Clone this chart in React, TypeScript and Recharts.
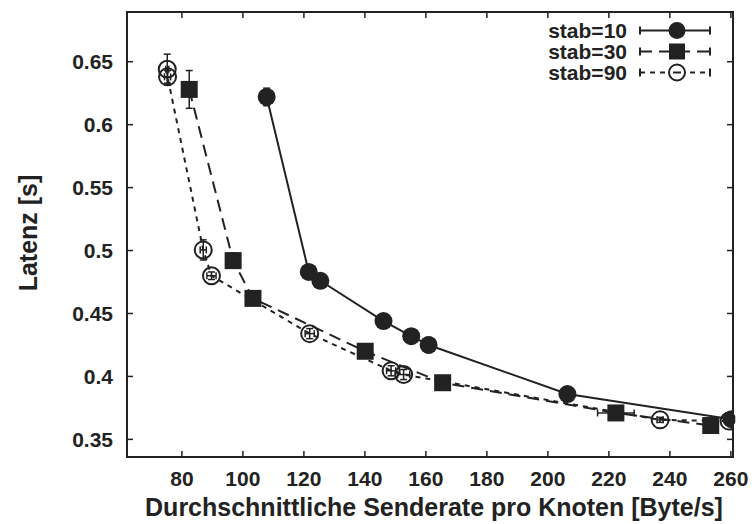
import React from 'react';
import { ScatterChart, Scatter, XAxis, YAxis, ErrorBar, ReferenceArea } from 'recharts';

const ink = '#222222';
const font = '"Liberation Sans", Arial, Helvetica, sans-serif';

// plot box (px)
const PLOT_TOP = 12;
const PLOT_BOTTOM = 457;
const PLOT_LEFT = 127;
const PLOT_RIGHT = 733;

const xDomain = [62, 260.7];
const yDomain = [0.336, 0.6895];
const xTicks = [80, 100, 120, 140, 160, 180, 200, 220, 240, 260];
const yTicks = [0.35, 0.4, 0.45, 0.5, 0.55, 0.6, 0.65];

// stab=10
const stab10Rate = [107.8, 121.6, 125.4, 146.1, 155.2, 160.9, 206.4, 260.2];
const stab10Lat = [0.622, 0.483, 0.476, 0.444, 0.432, 0.425, 0.386, 0.366];
const stab10RateErr = [1, 1, 1, 1.5, 2, 1.5, 2, 1];
const stab10LatErr = [0.007, 0.004, 0.004, 0.003, 0.003, 0.006, 0.003, 0.003];

// stab=30
const stab30Rate = [82.4, 96.8, 103.3, 140.1, 165.5, 222.3, 253.4];
const stab30Lat = [0.628, 0.492, 0.462, 0.42, 0.395, 0.371, 0.361];
const stab30RateErr = [1, 1, 1, 1, 1.5, 6, 2];
const stab30LatErr = [0.015, 0.006, 0.003, 0.003, 0.003, 0.003, 0.003];

// stab=90
const stab90Rate = [75.2, 75.3, 87.0, 89.7, 121.9, 148.6, 152.7, 236.8, 259.4];
const stab90Lat = [0.644, 0.638, 0.5005, 0.48, 0.434, 0.4045, 0.4015, 0.3655, 0.3645];
const stab90RateErr = [0.5, 1, 1, 1.5, 1.5, 1.5, 2, 1, 1];
const stab90LatErr = [0.012, 0.005, 0.008, 0.003, 0.004, 0.004, 0.004, 0.002, 0.002];

const build = (xs: number[], ys: number[], exs: number[], eys: number[]) =>
  xs.map((x, i) => ({ x, y: ys[i], ex: exs[i], ey: eys[i] }));

const stab10 = build(stab10Rate, stab10Lat, stab10RateErr, stab10LatErr);
const stab30 = build(stab30Rate, stab30Lat, stab30RateErr, stab30LatErr);
const stab90 = build(stab90Rate, stab90Lat, stab90RateErr, stab90LatErr);

const DASH_30 = '12 7';
const DASH_90 = '5 5';

const FilledCircle = (props: any) => <circle cx={props.cx} cy={props.cy} r={9} fill={ink} />;
const FilledSquare = (props: any) => (
  <rect x={props.cx - 8.5} y={props.cy - 8.5} width={17} height={17} fill={ink} />
);
const OpenCircle = (props: any) => (
  <circle cx={props.cx} cy={props.cy} r={8.5} fill="none" stroke={ink} strokeWidth={2} />
);

// ticks point inwards on all four sides, like gnuplot
const XTick = (props: any) => {
  const { x, payload } = props;
  return (
    <g>
      <line x1={x} y1={PLOT_BOTTOM} x2={x} y2={PLOT_BOTTOM - 6} stroke={ink} strokeWidth={1.5} />
      <line x1={x} y1={PLOT_TOP} x2={x} y2={PLOT_TOP + 6} stroke={ink} strokeWidth={1.5} />
      <text x={x} y={PLOT_BOTTOM + 29} textAnchor="middle" fontFamily={font} fontWeight="bold" fontSize={21} fill={ink}>
        {payload.value}
      </text>
    </g>
  );
};

const YTick = (props: any) => {
  const { y, payload } = props;
  return (
    <g>
      <line x1={PLOT_LEFT} y1={y} x2={PLOT_LEFT + 6} y2={y} stroke={ink} strokeWidth={1.5} />
      <line x1={PLOT_RIGHT} y1={y} x2={PLOT_RIGHT - 6} y2={y} stroke={ink} strokeWidth={1.5} />
      <text x={113} y={y + 7.5} textAnchor="end" fontFamily={font} fontWeight="bold" fontSize={21} fill={ink}>
        {payload.value}
      </text>
    </g>
  );
};

const legendRows = [
  { label: 'stab=10', dash: undefined as string | undefined, marker: 'circle' },
  { label: 'stab=30', dash: DASH_30, marker: 'square' },
  { label: 'stab=90', dash: DASH_90, marker: 'open' },
];

const Overlay = () => (
  <svg width={752} height={524} style={{ position: 'absolute', left: 0, top: 0, pointerEvents: 'none' }}>
    {legendRows.map((row, i) => {
      const y = 30.5 + i * 21;
      return (
        <g key={row.label}>
          <text x={627} y={y + 7.5} textAnchor="end" fontFamily={font} fontWeight="bold" fontSize={21} fill={ink}>
            {row.label}
          </text>
          <line x1={640} y1={y} x2={710} y2={y} stroke={ink} strokeWidth={2} strokeDasharray={row.dash} />
          <line x1={640} y1={y - 4} x2={640} y2={y + 4} stroke={ink} strokeWidth={2} />
          <line x1={710} y1={y - 4} x2={710} y2={y + 4} stroke={ink} strokeWidth={2} />
          {row.marker === 'circle' && <circle cx={677} cy={y} r={8.5} fill={ink} />}
          {row.marker === 'square' && <rect x={669} y={y - 8} width={16} height={16} fill={ink} />}
          {row.marker === 'open' && (
            <>
              <circle cx={677} cy={y} r={8} fill="#fff" stroke={ink} strokeWidth={2} />
              <line x1={673} y1={y} x2={681} y2={y} stroke={ink} strokeWidth={2} />
            </>
          )}
        </g>
      );
    })}
    <text
      x={37}
      y={233}
      transform="rotate(-90 37 233)"
      textAnchor="middle"
      fontFamily={font}
      fontWeight="bold"
      fontSize={25}
      fill={ink}
    >
      Latenz [s]
    </text>
    <text x={434} y={516} textAnchor="middle" fontFamily={font} fontWeight="bold" fontSize={25} fill={ink}>
      Durchschnittliche Senderate pro Knoten [Byte/s]
    </text>
  </svg>
);

export default function App() {
  return (
    <div style={{ position: 'absolute', left: 0, top: 0, width: 752, height: 524, background: '#fff' }}>
      <ScatterChart width={752} height={524} margin={{ top: PLOT_TOP, right: 752 - PLOT_RIGHT, bottom: 0, left: 0 }}>
        <XAxis
          type="number"
          dataKey="x"
          domain={xDomain}
          ticks={xTicks}
          height={67}
          axisLine={false}
          tickLine={false}
          tickSize={0}
          tick={<XTick />}
          allowDataOverflow
        />
        <YAxis
          type="number"
          dataKey="y"
          domain={yDomain}
          ticks={yTicks}
          width={PLOT_LEFT}
          axisLine={false}
          tickLine={false}
          tickSize={0}
          tick={<YTick />}
          allowDataOverflow
        />
        <ReferenceArea
          x1={xDomain[0]}
          x2={xDomain[1]}
          y1={yDomain[0]}
          y2={yDomain[1]}
          fill="none"
          fillOpacity={0}
          stroke={ink}
          strokeWidth={2}
          ifOverflow="visible"
        />
        <Scatter
          data={stab90}
          line={{ stroke: ink, strokeWidth: 2, strokeDasharray: DASH_90 }}
          lineType="joint"
          shape={OpenCircle}
          fill={ink}
          isAnimationActive={false}
        >
          <ErrorBar dataKey="ey" direction="y" width={3.5} stroke={ink} strokeWidth={1.5} isAnimationActive={false} />
          <ErrorBar dataKey="ex" direction="x" width={3.5} stroke={ink} strokeWidth={1.5} isAnimationActive={false} />
        </Scatter>
        <Scatter
          data={stab30}
          line={{ stroke: ink, strokeWidth: 2, strokeDasharray: DASH_30 }}
          lineType="joint"
          shape={FilledSquare}
          fill={ink}
          isAnimationActive={false}
        >
          <ErrorBar dataKey="ey" direction="y" width={3.5} stroke={ink} strokeWidth={1.5} isAnimationActive={false} />
          <ErrorBar dataKey="ex" direction="x" width={3.5} stroke={ink} strokeWidth={1.5} isAnimationActive={false} />
        </Scatter>
        <Scatter
          data={stab10}
          line={{ stroke: ink, strokeWidth: 2 }}
          lineType="joint"
          shape={FilledCircle}
          fill={ink}
          isAnimationActive={false}
        >
          <ErrorBar dataKey="ey" direction="y" width={3.5} stroke={ink} strokeWidth={1.5} isAnimationActive={false} />
          <ErrorBar dataKey="ex" direction="x" width={3.5} stroke={ink} strokeWidth={1.5} isAnimationActive={false} />
        </Scatter>
      </ScatterChart>
      <Overlay />
    </div>
  );
}
